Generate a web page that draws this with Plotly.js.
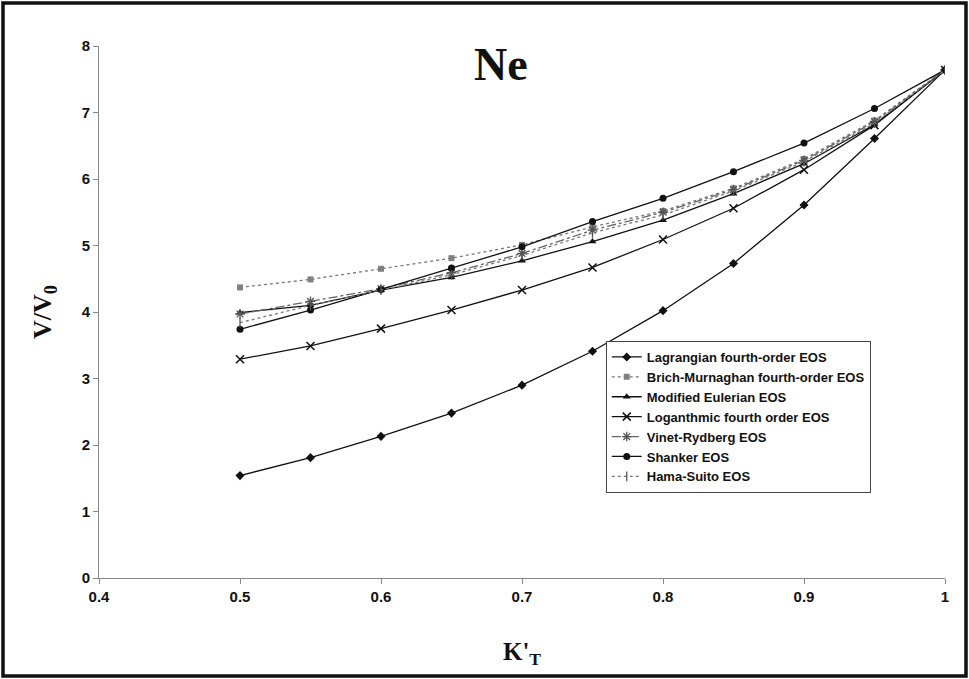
<!DOCTYPE html>
<html>
<head>
<meta charset="utf-8">
<script src="https://cdn.plot.ly/plotly-3.0.1.min.js"></script>
<style>
html,body{margin:0;padding:0;background:#fff;}
#chart{width:969px;height:679px;}
</style>
</head>
<body>
<div id="chart"></div>
<script>
// K'T values
const kT = [0.5, 0.55, 0.6, 0.65, 0.7, 0.75, 0.8, 0.85, 0.9, 0.95, 1.0];

// V/V0 values per EOS
const lagrangian = [1.54, 1.81, 2.13, 2.48, 2.90, 3.41, 4.02, 4.73, 5.61, 6.61, 7.64];
const brichMurnaghan = [4.37, 4.49, 4.65, 4.81, 5.01, 5.28, 5.52, 5.86, 6.30, 6.88, 7.64];
const modifiedEulerian = [3.99, 4.10, 4.33, 4.52, 4.77, 5.06, 5.38, 5.78, 6.23, 6.82, 7.64];
const logarithmic = [3.29, 3.49, 3.75, 4.03, 4.33, 4.67, 5.09, 5.56, 6.14, 6.81, 7.64];
const vinetRydberg = [3.97, 4.16, 4.35, 4.59, 4.88, 5.23, 5.50, 5.84, 6.28, 6.86, 7.64];
const shanker = [3.74, 4.03, 4.34, 4.66, 4.98, 5.36, 5.71, 6.11, 6.54, 7.06, 7.64];
const hamaSuito = [3.84, 4.10, 4.33, 4.56, 4.85, 5.19, 5.46, 5.82, 6.26, 6.84, 7.64];

const seriesNames = [
  "Lagrangian fourth-order EOS",
  "Brich-Murnaghan fourth-order EOS",
  "Modified Eulerian EOS",
  "Loganthmic fourth order EOS",
  "Vinet-Rydberg EOS",
  "Shanker EOS",
  "Hama-Suito EOS"
];
const xTicks = [0.4, 0.5, 0.6, 0.7, 0.8, 0.9, 1];
const yTicks = [0, 1, 2, 3, 4, 5, 6, 7, 8];

const styles = [
  {line:{color:'#111', width:1.3, dash:'solid'}, marker:{symbol:'diamond', size:7, color:'#111'}},
  {line:{color:'#777', width:1.3, dash:'dot'}, marker:{symbol:'square', size:6, color:'#808080'}},
  {line:{color:'#111', width:1.3, dash:'solid'}, marker:{symbol:'triangle-up', size:7, color:'#111'}},
  {line:{color:'#111', width:1.3, dash:'solid'}, marker:{symbol:'x-thin-open', size:8, color:'#111', line:{width:1.5, color:'#111'}}},
  {line:{color:'#666', width:1.3, dash:'dashdot'}, marker:{symbol:'asterisk-open', size:8, color:'#555', line:{width:1.3, color:'#555'}}},
  {line:{color:'#111', width:1.3, dash:'solid'}, marker:{symbol:'circle', size:7, color:'#111'}},
  {line:{color:'#777', width:1.3, dash:'dot'}, marker:{symbol:'line-ns-open', size:7, color:'#555', line:{width:1.3, color:'#555'}}}
];
const data = [lagrangian, brichMurnaghan, modifiedEulerian, logarithmic, vinetRydberg, shanker, hamaSuito];

const traces = data.map((y, i) => ({
  x: kT, y: y, name: seriesNames[i], type: 'scatter', mode: 'lines+markers',
  line: styles[i].line, marker: styles[i].marker
}));

const L = 99, R = 24, T = 46, B = 101, W = 969, H = 679;
const pw = W - L - R, ph = H - T - B;

const layout = {
  width: W, height: H,
  margin: {l: L, r: R, t: T, b: B, pad: 0},
  paper_bgcolor: '#fff', plot_bgcolor: '#fff',
  showlegend: true,
  font: {family: 'Liberation Sans, Arial, sans-serif', color: '#000'},
  xaxis: {
    range: [0.4, 1.0], tickvals: xTicks, ticktext: xTicks.map(String),
    showgrid: false, zeroline: false, showline: true, linecolor: '#888', linewidth: 1,
    ticks: 'outside', ticklen: 5, tickcolor: '#888',
    tickfont: {size: 15, weight: 700, family: 'Liberation Sans, Arial, sans-serif', color: '#111'},
    title: {text: "K'<sub>T</sub>", font: {family: 'Liberation Serif, Times New Roman, serif', size: 25, weight: 700, color: '#111'}, standoff: 38}
  },
  yaxis: {
    range: [0, 8], tickvals: yTicks, ticktext: yTicks.map(String),
    showgrid: false, zeroline: false, showline: true, linecolor: '#888', linewidth: 1,
    ticks: 'outside', ticklen: 5, tickcolor: '#888',
    tickfont: {size: 15, weight: 700, family: 'Liberation Sans, Arial, sans-serif', color: '#111'},
    title: {text: 'V/V<sub>0</sub>', font: {family: 'Liberation Serif, Times New Roman, serif', size: 26, weight: 700, color: '#111'}, standoff: 22}
  },
  legend: {
    x: 0.599, y: 0.4455, xanchor: 'left', yanchor: 'top',
    bgcolor: '#fff', bordercolor: '#444', borderwidth: 1,
    font: {size: 13, weight: 700, family: 'Liberation Sans, Arial, sans-serif', color: '#111'},
    tracegroupgap: 0, itemwidth: 30
  },
  annotations: [{
    text: '<b>Ne</b>', xref: 'paper', yref: 'paper', x: (501 - L) / pw, y: (H - B - 64) / ph,
    showarrow: false, xanchor: 'center', yanchor: 'middle',
    font: {family: 'Liberation Serif, Times New Roman, serif', size: 46, color: '#111'}
  }],
  shapes: [{
    type: 'rect', xref: 'paper', yref: 'paper', layer: 'above',
    x0: (3 - L) / pw, x1: (966 - L) / pw,
    y0: (H - B - 676) / ph, y1: (H - B - 3) / ph,
    line: {color: '#111', width: 3.5}
  }]
};

Plotly.newPlot('chart', traces, layout, {displayModeBar: false, staticPlot: true});
</script>
</body>
</html>
